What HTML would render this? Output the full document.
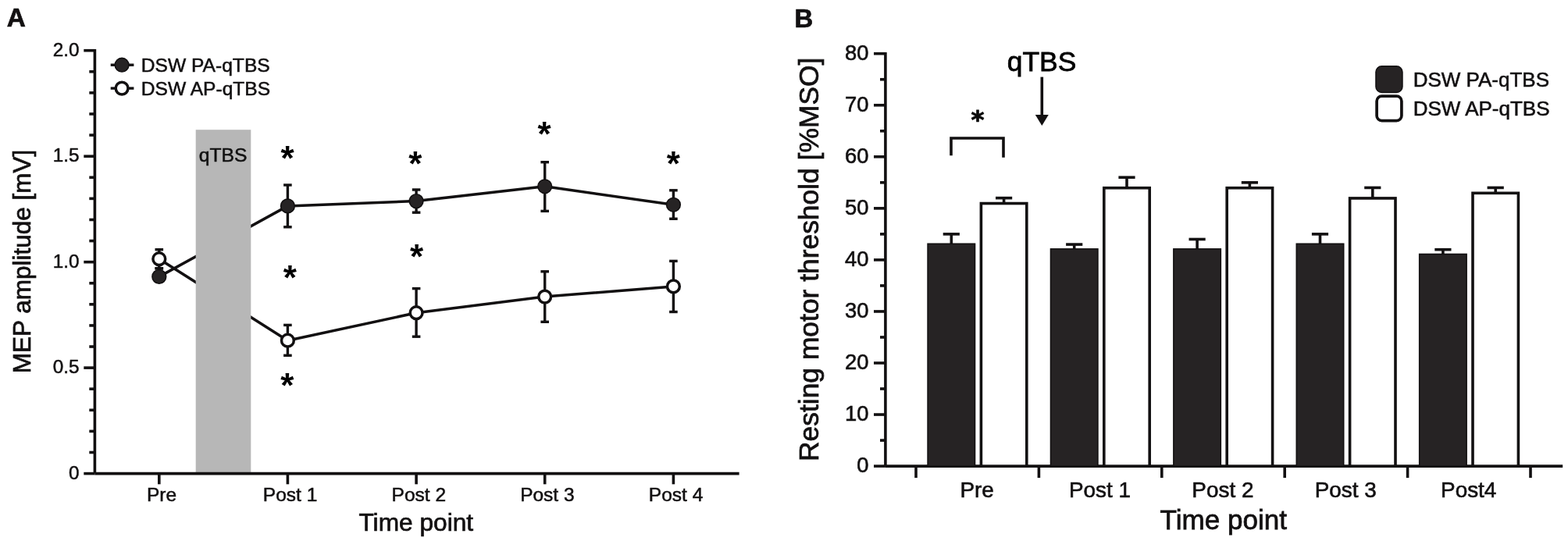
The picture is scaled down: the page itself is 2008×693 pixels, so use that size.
<!DOCTYPE html>
<html lang="en">
<head>
<meta charset="utf-8">
<title>Figure</title>
<style>
html,body{margin:0;padding:0;background:#fff;}
body{width:2008px;height:693px;overflow:hidden;}
svg{display:block;font-family:'Liberation Sans', Arial, Helvetica, sans-serif;}
</style>
</head>
<body>
<svg width="2008" height="693" viewBox="0 0 2008 693" font-family="'Liberation Sans', Arial, Helvetica, sans-serif">
<rect x="0" y="0" width="2008" height="693" fill="#ffffff"/>
<text x="8.7" y="34.3" font-size="33.3" text-anchor="start" font-weight="bold" fill="#121011" stroke="#121011" stroke-width="0.73" >A</text>
<polyline points="203.8,354.4 368.4,263.9 533.1,257.6 697.7,238.8 862.4,262.3" fill="none" stroke="#121011" stroke-width="3.5" stroke-linejoin="round"/>
<polyline points="203.8,331.7 368.4,436.2 533.1,400.7 697.7,380.1 862.4,366.9" fill="none" stroke="#121011" stroke-width="3.5" stroke-linejoin="round"/>
<rect x="250.7" y="166.2" width="70.6" height="440.4" fill="#b7b7b7"/>
<text x="285.6" y="206.9" font-size="24.7" text-anchor="middle" font-weight="normal" fill="#111" stroke="#111" stroke-width="0.54" >qTBS</text>
<line x1="121.4" y1="62.9" x2="121.4" y2="606.6" stroke="#121011" stroke-width="3.6"/>
<line x1="121.4" y1="606.6" x2="946.6" y2="606.6" stroke="#121011" stroke-width="3.6"/>
<line x1="107.3" y1="606.6" x2="121.4" y2="606.6" stroke="#121011" stroke-width="3.6"/>
<line x1="114.3" y1="579.5" x2="121.4" y2="579.5" stroke="#121011" stroke-width="3.6"/>
<line x1="114.3" y1="552.41" x2="121.4" y2="552.41" stroke="#121011" stroke-width="3.6"/>
<line x1="114.3" y1="525.32" x2="121.4" y2="525.32" stroke="#121011" stroke-width="3.6"/>
<line x1="114.3" y1="498.22" x2="121.4" y2="498.22" stroke="#121011" stroke-width="3.6"/>
<line x1="107.3" y1="471.12" x2="121.4" y2="471.12" stroke="#121011" stroke-width="3.6"/>
<line x1="114.3" y1="444.03" x2="121.4" y2="444.03" stroke="#121011" stroke-width="3.6"/>
<line x1="114.3" y1="416.94" x2="121.4" y2="416.94" stroke="#121011" stroke-width="3.6"/>
<line x1="114.3" y1="389.84" x2="121.4" y2="389.84" stroke="#121011" stroke-width="3.6"/>
<line x1="114.3" y1="362.75" x2="121.4" y2="362.75" stroke="#121011" stroke-width="3.6"/>
<line x1="107.3" y1="335.65" x2="121.4" y2="335.65" stroke="#121011" stroke-width="3.6"/>
<line x1="114.3" y1="308.56" x2="121.4" y2="308.56" stroke="#121011" stroke-width="3.6"/>
<line x1="114.3" y1="281.46" x2="121.4" y2="281.46" stroke="#121011" stroke-width="3.6"/>
<line x1="114.3" y1="254.37" x2="121.4" y2="254.37" stroke="#121011" stroke-width="3.6"/>
<line x1="114.3" y1="227.27" x2="121.4" y2="227.27" stroke="#121011" stroke-width="3.6"/>
<line x1="107.3" y1="200.18" x2="121.4" y2="200.18" stroke="#121011" stroke-width="3.6"/>
<line x1="114.3" y1="173.08" x2="121.4" y2="173.08" stroke="#121011" stroke-width="3.6"/>
<line x1="114.3" y1="145.99" x2="121.4" y2="145.99" stroke="#121011" stroke-width="3.6"/>
<line x1="114.3" y1="118.89" x2="121.4" y2="118.89" stroke="#121011" stroke-width="3.6"/>
<line x1="114.3" y1="91.79" x2="121.4" y2="91.79" stroke="#121011" stroke-width="3.6"/>
<line x1="107.3" y1="64.7" x2="121.4" y2="64.7" stroke="#121011" stroke-width="3.6"/>
<text x="101.6" y="613.9" font-size="24.3" text-anchor="end" font-weight="normal" fill="#121011" stroke="#121011" stroke-width="0.53" >0</text>
<text x="101.6" y="478.43" font-size="24.3" text-anchor="end" font-weight="normal" fill="#121011" stroke="#121011" stroke-width="0.53" >0.5</text>
<text x="101.6" y="342.95" font-size="24.3" text-anchor="end" font-weight="normal" fill="#121011" stroke="#121011" stroke-width="0.53" >1.0</text>
<text x="101.6" y="207.48" font-size="24.3" text-anchor="end" font-weight="normal" fill="#121011" stroke="#121011" stroke-width="0.53" >1.5</text>
<text x="101.6" y="72.0" font-size="24.3" text-anchor="end" font-weight="normal" fill="#121011" stroke="#121011" stroke-width="0.53" >2.0</text>
<line x1="203.8" y1="606.6" x2="203.8" y2="620.3" stroke="#121011" stroke-width="3.6"/>
<line x1="368.4" y1="606.6" x2="368.4" y2="620.3" stroke="#121011" stroke-width="3.6"/>
<line x1="533.1" y1="606.6" x2="533.1" y2="620.3" stroke="#121011" stroke-width="3.6"/>
<line x1="697.7" y1="606.6" x2="697.7" y2="620.3" stroke="#121011" stroke-width="3.6"/>
<line x1="862.4" y1="606.6" x2="862.4" y2="620.3" stroke="#121011" stroke-width="3.6"/>
<text x="207.0" y="642.2" font-size="24.5" text-anchor="middle" font-weight="normal" fill="#121011" stroke="#121011" stroke-width="0.54" >Pre</text>
<text x="371.6" y="642.2" font-size="24.5" text-anchor="middle" font-weight="normal" fill="#121011" stroke="#121011" stroke-width="0.54" >Post 1</text>
<text x="536.3" y="642.2" font-size="24.5" text-anchor="middle" font-weight="normal" fill="#121011" stroke="#121011" stroke-width="0.54" >Post 2</text>
<text x="700.9" y="642.2" font-size="24.5" text-anchor="middle" font-weight="normal" fill="#121011" stroke="#121011" stroke-width="0.54" >Post 3</text>
<text x="865.6" y="642.2" font-size="24.5" text-anchor="middle" font-weight="normal" fill="#121011" stroke="#121011" stroke-width="0.54" >Post 4</text>
<text x="532.8" y="680.4" font-size="31.7" text-anchor="middle" font-weight="normal" fill="#121011" stroke="#121011" stroke-width="0.7" >Time point</text>
<text transform="translate(38.6,335) rotate(-90)" font-size="31.5" text-anchor="middle" fill="#121011" stroke="#121011" stroke-width="0.75">MEP amplitude [mV]</text>
<line x1="203.8" y1="343.8" x2="203.8" y2="359.0" stroke="#121011" stroke-width="3.4"/>
<line x1="198.5" y1="343.8" x2="209.1" y2="343.8" stroke="#121011" stroke-width="3.4"/>
<line x1="198.5" y1="359.0" x2="209.1" y2="359.0" stroke="#121011" stroke-width="3.4"/>
<line x1="368.4" y1="237.0" x2="368.4" y2="290.8" stroke="#121011" stroke-width="3.4"/>
<line x1="363.1" y1="237.0" x2="373.7" y2="237.0" stroke="#121011" stroke-width="3.4"/>
<line x1="363.1" y1="290.8" x2="373.7" y2="290.8" stroke="#121011" stroke-width="3.4"/>
<line x1="533.1" y1="243.0" x2="533.1" y2="272.2" stroke="#121011" stroke-width="3.4"/>
<line x1="527.8" y1="243.0" x2="538.4" y2="243.0" stroke="#121011" stroke-width="3.4"/>
<line x1="527.8" y1="272.2" x2="538.4" y2="272.2" stroke="#121011" stroke-width="3.4"/>
<line x1="697.7" y1="207.7" x2="697.7" y2="270.4" stroke="#121011" stroke-width="3.4"/>
<line x1="692.4" y1="207.7" x2="703.0" y2="207.7" stroke="#121011" stroke-width="3.4"/>
<line x1="692.4" y1="270.4" x2="703.0" y2="270.4" stroke="#121011" stroke-width="3.4"/>
<line x1="862.4" y1="243.8" x2="862.4" y2="280.3" stroke="#121011" stroke-width="3.4"/>
<line x1="857.1" y1="243.8" x2="867.7" y2="243.8" stroke="#121011" stroke-width="3.4"/>
<line x1="857.1" y1="280.3" x2="867.7" y2="280.3" stroke="#121011" stroke-width="3.4"/>
<circle cx="203.8" cy="354.4" r="8.85" fill="#262324" stroke="#121011" stroke-width="1.6"/>
<circle cx="368.4" cy="263.9" r="8.85" fill="#262324" stroke="#121011" stroke-width="1.6"/>
<circle cx="533.1" cy="257.6" r="8.85" fill="#262324" stroke="#121011" stroke-width="1.6"/>
<circle cx="697.7" cy="238.8" r="8.85" fill="#262324" stroke="#121011" stroke-width="1.6"/>
<circle cx="862.4" cy="262.3" r="8.85" fill="#262324" stroke="#121011" stroke-width="1.6"/>
<line x1="203.8" y1="319.7" x2="203.8" y2="343.8" stroke="#121011" stroke-width="3.4"/>
<line x1="198.5" y1="319.7" x2="209.1" y2="319.7" stroke="#121011" stroke-width="3.4"/>
<line x1="198.5" y1="343.8" x2="209.1" y2="343.8" stroke="#121011" stroke-width="3.4"/>
<line x1="368.4" y1="416.4" x2="368.4" y2="455.3" stroke="#121011" stroke-width="3.4"/>
<line x1="363.1" y1="416.4" x2="373.7" y2="416.4" stroke="#121011" stroke-width="3.4"/>
<line x1="363.1" y1="455.3" x2="373.7" y2="455.3" stroke="#121011" stroke-width="3.4"/>
<line x1="533.1" y1="369.6" x2="533.1" y2="431.2" stroke="#121011" stroke-width="3.4"/>
<line x1="527.8" y1="369.6" x2="538.4" y2="369.6" stroke="#121011" stroke-width="3.4"/>
<line x1="527.8" y1="431.2" x2="538.4" y2="431.2" stroke="#121011" stroke-width="3.4"/>
<line x1="697.7" y1="347.8" x2="697.7" y2="412.3" stroke="#121011" stroke-width="3.4"/>
<line x1="692.4" y1="347.8" x2="703.0" y2="347.8" stroke="#121011" stroke-width="3.4"/>
<line x1="692.4" y1="412.3" x2="703.0" y2="412.3" stroke="#121011" stroke-width="3.4"/>
<line x1="862.4" y1="334.4" x2="862.4" y2="399.5" stroke="#121011" stroke-width="3.4"/>
<line x1="857.1" y1="334.4" x2="867.7" y2="334.4" stroke="#121011" stroke-width="3.4"/>
<line x1="857.1" y1="399.5" x2="867.7" y2="399.5" stroke="#121011" stroke-width="3.4"/>
<circle cx="203.8" cy="331.7" r="7.9" fill="#fff" stroke="#121011" stroke-width="3.5"/>
<circle cx="368.4" cy="436.2" r="7.9" fill="#fff" stroke="#121011" stroke-width="3.5"/>
<circle cx="533.1" cy="400.7" r="7.9" fill="#fff" stroke="#121011" stroke-width="3.5"/>
<circle cx="697.7" cy="380.1" r="7.9" fill="#fff" stroke="#121011" stroke-width="3.5"/>
<circle cx="862.4" cy="366.9" r="7.9" fill="#fff" stroke="#121011" stroke-width="3.5"/>
<line x1="141.7" y1="83.2" x2="171.4" y2="83.2" stroke="#121011" stroke-width="3.4"/>
<circle cx="156.1" cy="83.2" r="8.85" fill="#262324" stroke="#121011" stroke-width="1.6"/>
<line x1="141.7" y1="113.1" x2="171.4" y2="113.1" stroke="#121011" stroke-width="3.4"/>
<circle cx="156.1" cy="113.1" r="7.9" fill="#fff" stroke="#121011" stroke-width="3.5"/>
<text x="180.8" y="92.2" font-size="24.6" text-anchor="start" font-weight="normal" fill="#121011" stroke="#121011" stroke-width="0.54" >DSW PA-qTBS</text>
<text x="180.8" y="122.1" font-size="24.6" text-anchor="start" font-weight="normal" fill="#121011" stroke="#121011" stroke-width="0.54" >DSW AP-qTBS</text>
<text x="368.0" y="217.62" font-size="44" text-anchor="middle" font-weight="bold" fill="#000" stroke="#000" stroke-width="0" >*</text>
<text x="531.9" y="224.72" font-size="44" text-anchor="middle" font-weight="bold" fill="#000" stroke="#000" stroke-width="0" >*</text>
<text x="697.1" y="186.52" font-size="44" text-anchor="middle" font-weight="bold" fill="#000" stroke="#000" stroke-width="0" >*</text>
<text x="862.2" y="225.02" font-size="44" text-anchor="middle" font-weight="bold" fill="#000" stroke="#000" stroke-width="0" >*</text>
<text x="371.4" y="370.62" font-size="44" text-anchor="middle" font-weight="bold" fill="#000" stroke="#000" stroke-width="0" >*</text>
<text x="533.5" y="343.62" font-size="44" text-anchor="middle" font-weight="bold" fill="#000" stroke="#000" stroke-width="0" >*</text>
<text x="367.8" y="508.62" font-size="44" text-anchor="middle" font-weight="bold" fill="#000" stroke="#000" stroke-width="0" >*</text>
<text x="1017.5" y="34.9" font-size="32.8" text-anchor="start" font-weight="bold" fill="#121011" stroke="#121011" stroke-width="0.72" >B</text>
<line x1="1133.9" y1="66.9" x2="1133.9" y2="597.1" stroke="#121011" stroke-width="3.6"/>
<line x1="1133.9" y1="597.1" x2="2001.2" y2="597.1" stroke="#121011" stroke-width="3.6"/>
<line x1="1119.0" y1="597.1" x2="1133.9" y2="597.1" stroke="#121011" stroke-width="3.6"/>
<text x="1112.4" y="605.3" font-size="27.4" text-anchor="end" font-weight="normal" fill="#121011" stroke="#121011" stroke-width="0.6" >0</text>
<line x1="1127" y1="564.08" x2="1133.9" y2="564.08" stroke="#121011" stroke-width="3.6"/>
<line x1="1119.0" y1="531.05" x2="1133.9" y2="531.05" stroke="#121011" stroke-width="3.6"/>
<text x="1112.4" y="539.25" font-size="27.4" text-anchor="end" font-weight="normal" fill="#121011" stroke="#121011" stroke-width="0.6" >10</text>
<line x1="1127" y1="498.03" x2="1133.9" y2="498.03" stroke="#121011" stroke-width="3.6"/>
<line x1="1119.0" y1="465.0" x2="1133.9" y2="465.0" stroke="#121011" stroke-width="3.6"/>
<text x="1112.4" y="473.2" font-size="27.4" text-anchor="end" font-weight="normal" fill="#121011" stroke="#121011" stroke-width="0.6" >20</text>
<line x1="1127" y1="431.98" x2="1133.9" y2="431.98" stroke="#121011" stroke-width="3.6"/>
<line x1="1119.0" y1="398.95" x2="1133.9" y2="398.95" stroke="#121011" stroke-width="3.6"/>
<text x="1112.4" y="407.15" font-size="27.4" text-anchor="end" font-weight="normal" fill="#121011" stroke="#121011" stroke-width="0.6" >30</text>
<line x1="1127" y1="365.93" x2="1133.9" y2="365.93" stroke="#121011" stroke-width="3.6"/>
<line x1="1119.0" y1="332.9" x2="1133.9" y2="332.9" stroke="#121011" stroke-width="3.6"/>
<text x="1112.4" y="341.1" font-size="27.4" text-anchor="end" font-weight="normal" fill="#121011" stroke="#121011" stroke-width="0.6" >40</text>
<line x1="1127" y1="299.88" x2="1133.9" y2="299.88" stroke="#121011" stroke-width="3.6"/>
<line x1="1119.0" y1="266.85" x2="1133.9" y2="266.85" stroke="#121011" stroke-width="3.6"/>
<text x="1112.4" y="275.05" font-size="27.4" text-anchor="end" font-weight="normal" fill="#121011" stroke="#121011" stroke-width="0.6" >50</text>
<line x1="1127" y1="233.83" x2="1133.9" y2="233.83" stroke="#121011" stroke-width="3.6"/>
<line x1="1119.0" y1="200.8" x2="1133.9" y2="200.8" stroke="#121011" stroke-width="3.6"/>
<text x="1112.4" y="209.0" font-size="27.4" text-anchor="end" font-weight="normal" fill="#121011" stroke="#121011" stroke-width="0.6" >60</text>
<line x1="1127" y1="167.78" x2="1133.9" y2="167.78" stroke="#121011" stroke-width="3.6"/>
<line x1="1119.0" y1="134.75" x2="1133.9" y2="134.75" stroke="#121011" stroke-width="3.6"/>
<text x="1112.4" y="142.95" font-size="27.4" text-anchor="end" font-weight="normal" fill="#121011" stroke="#121011" stroke-width="0.6" >70</text>
<line x1="1127" y1="101.73" x2="1133.9" y2="101.73" stroke="#121011" stroke-width="3.6"/>
<line x1="1119.0" y1="68.7" x2="1133.9" y2="68.7" stroke="#121011" stroke-width="3.6"/>
<text x="1112.4" y="76.9" font-size="27.4" text-anchor="end" font-weight="normal" fill="#121011" stroke="#121011" stroke-width="0.6" >80</text>
<line x1="1173.0" y1="597.1" x2="1173.0" y2="612.1" stroke="#121011" stroke-width="3.6"/>
<line x1="1330.4" y1="597.1" x2="1330.4" y2="612.1" stroke="#121011" stroke-width="3.6"/>
<line x1="1487.8" y1="597.1" x2="1487.8" y2="612.1" stroke="#121011" stroke-width="3.6"/>
<line x1="1645.2" y1="597.1" x2="1645.2" y2="612.1" stroke="#121011" stroke-width="3.6"/>
<line x1="1802.6" y1="597.1" x2="1802.6" y2="612.1" stroke="#121011" stroke-width="3.6"/>
<line x1="1960.0" y1="597.1" x2="1960.0" y2="612.1" stroke="#121011" stroke-width="3.6"/>
<text x="1251.1" y="636.8" font-size="27.9" text-anchor="middle" font-weight="normal" fill="#121011" stroke="#121011" stroke-width="0.61" >Pre</text>
<text x="1408.5" y="636.8" font-size="27.9" text-anchor="middle" font-weight="normal" fill="#121011" stroke="#121011" stroke-width="0.61" >Post 1</text>
<text x="1565.9" y="636.8" font-size="27.9" text-anchor="middle" font-weight="normal" fill="#121011" stroke="#121011" stroke-width="0.61" >Post 2</text>
<text x="1723.3" y="636.8" font-size="27.9" text-anchor="middle" font-weight="normal" fill="#121011" stroke="#121011" stroke-width="0.61" >Post 3</text>
<text x="1880.7" y="636.8" font-size="27.9" text-anchor="middle" font-weight="normal" fill="#121011" stroke="#121011" stroke-width="0.61" >Post4</text>
<text x="1566.8" y="677.7" font-size="35.1" text-anchor="middle" font-weight="normal" fill="#121011" stroke="#121011" stroke-width="0.77" >Time point</text>
<text transform="translate(1047.8,332.3) rotate(-90)" font-size="35.4" text-anchor="middle" fill="#121011" stroke="#121011" stroke-width="0.75">Resting motor threshold [%MSO]</text>
<line x1="1218.3" y1="299.88" x2="1218.3" y2="313.09" stroke="#121011" stroke-width="3.6"/>
<line x1="1207.7" y1="299.88" x2="1228.9" y2="299.88" stroke="#121011" stroke-width="3.6"/>
<rect x="1188.1" y="312.29" width="60.4" height="284.81" fill="#262324" stroke="#121011" stroke-width="1.6"/>
<line x1="1285.6" y1="253.64" x2="1285.6" y2="260.25" stroke="#121011" stroke-width="3.6"/>
<line x1="1275.0" y1="253.64" x2="1296.2" y2="253.64" stroke="#121011" stroke-width="3.6"/>
<rect x="1256.4" y="260.55" width="58.4" height="336.55" fill="#fff" stroke="#121011" stroke-width="3.6"/>
<line x1="1375.7" y1="313.09" x2="1375.7" y2="319.69" stroke="#121011" stroke-width="3.6"/>
<line x1="1365.1" y1="313.09" x2="1386.3" y2="313.09" stroke="#121011" stroke-width="3.6"/>
<rect x="1345.5" y="318.89" width="60.4" height="278.21" fill="#262324" stroke="#121011" stroke-width="1.6"/>
<line x1="1443.0" y1="227.22" x2="1443.0" y2="240.43" stroke="#121011" stroke-width="3.6"/>
<line x1="1432.4" y1="227.22" x2="1453.6" y2="227.22" stroke="#121011" stroke-width="3.6"/>
<rect x="1413.8" y="240.73" width="58.4" height="356.37" fill="#fff" stroke="#121011" stroke-width="3.6"/>
<line x1="1533.1" y1="306.48" x2="1533.1" y2="319.69" stroke="#121011" stroke-width="3.6"/>
<line x1="1522.5" y1="306.48" x2="1543.7" y2="306.48" stroke="#121011" stroke-width="3.6"/>
<rect x="1502.9" y="318.89" width="60.4" height="278.21" fill="#262324" stroke="#121011" stroke-width="1.6"/>
<line x1="1600.4" y1="233.83" x2="1600.4" y2="240.43" stroke="#121011" stroke-width="3.6"/>
<line x1="1589.8" y1="233.83" x2="1611.0" y2="233.83" stroke="#121011" stroke-width="3.6"/>
<rect x="1571.2" y="240.73" width="58.4" height="356.37" fill="#fff" stroke="#121011" stroke-width="3.6"/>
<line x1="1690.5" y1="299.88" x2="1690.5" y2="313.09" stroke="#121011" stroke-width="3.6"/>
<line x1="1679.9" y1="299.88" x2="1701.1" y2="299.88" stroke="#121011" stroke-width="3.6"/>
<rect x="1660.3" y="312.29" width="60.4" height="284.81" fill="#262324" stroke="#121011" stroke-width="1.6"/>
<line x1="1757.8" y1="240.43" x2="1757.8" y2="253.64" stroke="#121011" stroke-width="3.6"/>
<line x1="1747.2" y1="240.43" x2="1768.4" y2="240.43" stroke="#121011" stroke-width="3.6"/>
<rect x="1728.6" y="253.94" width="58.4" height="343.16" fill="#fff" stroke="#121011" stroke-width="3.6"/>
<line x1="1847.9" y1="319.69" x2="1847.9" y2="326.3" stroke="#121011" stroke-width="3.6"/>
<line x1="1837.3" y1="319.69" x2="1858.5" y2="319.69" stroke="#121011" stroke-width="3.6"/>
<rect x="1817.7" y="325.5" width="60.4" height="271.61" fill="#262324" stroke="#121011" stroke-width="1.6"/>
<line x1="1915.2" y1="240.43" x2="1915.2" y2="247.04" stroke="#121011" stroke-width="3.6"/>
<line x1="1904.6" y1="240.43" x2="1925.8" y2="240.43" stroke="#121011" stroke-width="3.6"/>
<rect x="1886.0" y="247.34" width="58.4" height="349.76" fill="#fff" stroke="#121011" stroke-width="3.6"/>
<rect x="1762.0" y="84.8" width="33.9" height="33.7" rx="7.5" fill="#262324" stroke="#121011" stroke-width="1.6"/>
<rect x="1763.1" y="123.1" width="31.8" height="31.6" rx="6.5" fill="#fff" stroke="#121011" stroke-width="3.7"/>
<text x="1809.7" y="111.0" font-size="26.0" text-anchor="start" font-weight="normal" fill="#121011" stroke="#121011" stroke-width="0.57" >DSW PA-qTBS</text>
<text x="1809.7" y="147.5" font-size="26.0" text-anchor="start" font-weight="normal" fill="#121011" stroke="#121011" stroke-width="0.57" >DSW AP-qTBS</text>
<text x="1334" y="91.4" font-size="35.4" text-anchor="middle" font-weight="normal" fill="#000" stroke="#000" stroke-width="0.78" >qTBS</text>
<line x1="1334.3" y1="98.6" x2="1334.3" y2="150" stroke="#121011" stroke-width="3.6"/>
<polygon points="1325.8,147 1342.8,147 1334.3,161" fill="#121011"/>
<polyline points="1218,199.2 1218,177 1285,177 1285,201.8" fill="none" stroke="#121011" stroke-width="3.6"/>
<text x="1252" y="163.9" font-size="32.5" text-anchor="middle" font-weight="bold" font-family="'DejaVu Sans', sans-serif" fill="#0a0a0a" stroke="#0a0a0a" stroke-width="0.8" stroke-linejoin="miter">*</text>
</svg>
</body>
</html>
